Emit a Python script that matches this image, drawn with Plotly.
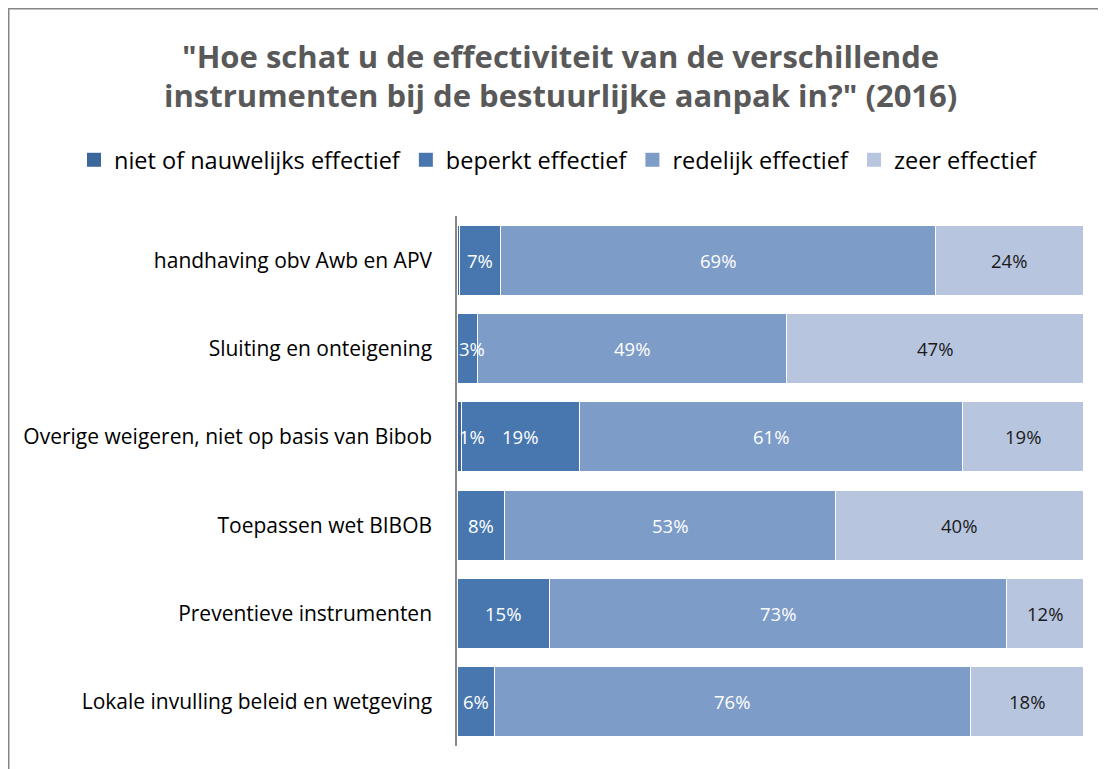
import plotly.graph_objects as go

categories = [
    "handhaving obv Awb en APV",
    "Sluiting en onteigening",
    "Overige weigeren, niet op basis van Bibob",
    "Toepassen wet BIBOB",
    "Preventieve instrumenten",
    "Lokale invulling beleid en wetgeving",
]
series_names = ["niet of nauwelijks effectief", "beperkt effectief",
                "redelijk effectief", "zeer effectief"]
niet = [0.4, 0.0, 0.7, 0.0, 0.0, 0.0]
beperkt = [6.6, 3.2, 18.8, 7.6, 14.8, 6.0]
redelijk = [69.4, 49.4, 61.2, 52.8, 73.0, 76.0]
zeer = [23.6, 47.4, 19.3, 39.6, 12.2, 18.0]
values = [niet, beperkt, redelijk, zeer]

colors = ["#3C679C", "#4877B0", "#7E9CC8", "#B7C5DF"]
label_colors = ["white", "white", "white", "#1a1a1a"]
FONT = "Open Sans"

# figure is placed at (8, 8) in the page; all coordinates below are figure pixels
W_FIG, H_FIG = 1098, 761
PL, PR, PT, PB = 449, 1075, 208, 738
PW, PH = PR - PL, PB - PT

def px(X):
    return (X - PL) / PW

def py(Y):
    return (PB - Y) / PH

fig = go.Figure()
for name, vals, col in zip(series_names, values, colors):
    fig.add_trace(go.Bar(
        y=categories, x=vals, name=name, orientation="h",
        marker=dict(color=col, line=dict(color="white", width=1)),
        hoverinfo="skip", showlegend=False, legendgroup=name,
    ))
# legend entries with larger square swatches
for name, col in zip(series_names, colors):
    fig.add_trace(go.Scatter(
        x=[None], y=[None], mode="markers", name=name, legendgroup=name,
        marker=dict(symbol="square", size=14, color=col, line=dict(width=0)),
        hoverinfo="skip", showlegend=True,
    ))

annotations = []
for i, cat in enumerate(categories):
    start = 0.0
    for s, vals in enumerate(values):
        v = vals[i]
        if v >= 0.5:
            cx = max(start + v / 2, 2.4)
            annotations.append(dict(
                x=cx, y=cat, xref="x", yref="y", text=f"{round(v):d}%",
                showarrow=False, font=dict(family=FONT, size=18.5, color=label_colors[s]),
            ))
        start += v

title_lines = ['"Hoe schat u de effectiviteit van de verschillende',
               'instrumenten bij de bestuurlijke aanpak in?" (2016)']
for line, Y in zip(title_lines, [48, 87]):
    annotations.append(dict(
        x=px(552), y=py(Y), xref="paper", yref="paper",
        xanchor="center", yanchor="middle", text=f"<b>{line}</b>", showarrow=False,
        font=dict(family=FONT, size=31, color="#595959"),
    ))

fig.update_layout(
    barmode="stack",
    bargap=0.21,
    width=W_FIG, height=H_FIG,
    margin=dict(l=PL, r=W_FIG - PR, t=PT, b=H_FIG - PB, pad=0),
    paper_bgcolor="white", plot_bgcolor="white",
    font=dict(family=FONT, size=20, color="#000000"),
    showlegend=True,
    legend=dict(
        orientation="h", xref="paper", yref="paper",
        x=px(66), xanchor="left",
        y=py(152), yanchor="middle",
        font=dict(family=FONT, size=23.5, color="#000000"),
        itemclick=False, itemdoubleclick=False, traceorder="normal",
    ),
    xaxis=dict(range=[0, 100], visible=False, fixedrange=True),
    yaxis=dict(
        categoryorder="array", categoryarray=categories, autorange="reversed",
        showline=True, linecolor="#888888", linewidth=1.5,
        ticks="", ticklabelstandoff=19, showgrid=False, fixedrange=True,
        tickfont=dict(family=FONT, size=21, color="#000000"),
    ),
    annotations=annotations,
    shapes=[dict(
        type="rect", xref="paper", yref="paper",
        x0=px(0.75), x1=px(1300), y0=py(1200), y1=py(0.75),
        line=dict(color="#868686", width=1.5), fillcolor="rgba(0,0,0,0)", layer="below",
    )],
)

fig.write_html("out.html")
